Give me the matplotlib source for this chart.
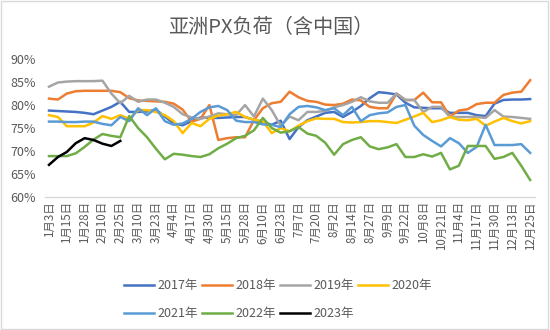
import matplotlib
matplotlib.use("Agg")
import matplotlib.pyplot as plt
import matplotlib.ticker as ticker
from matplotlib.patches import Rectangle
import numpy as np

plt.rcParams["font.family"] = ["Noto Sans CJK SC", "DejaVu Sans"]

TITLE = "亚洲PX负荷（含中国）"

# every other category carries a label
tick_labels = [
    "1月3日", "1月15日", "1月28日", "2月10日", "2月25日", "3月10日", "3月23日",
    "4月4日", "4月17日", "4月30日", "5月15日", "5月28日", "6月10日", "6月23日",
    "7月7日", "7月20日", "8月2日", "8月14日", "8月27日", "9月9日", "9月22日",
    "10月8日", "10月21日", "11月4日", "11月17日", "11月30日", "12月13日", "12月25日",
]

# weekly load, %
y2017 = [78.8, 78.7, 78.6, 78.5, 78.3, 78.0, 78.8, 79.6, 80.7, 78.5,
         78.5, 78.6, 79.0, 77.5, 76.0, 75.6, 76.5, 77.3, 77.2, 77.2,
         77.3, 77.4, 77.4, 76.8, 76.3, 75.7, 76.6, 72.6, 75.2, 76.7,
         77.5, 78.3, 78.5, 77.4, 78.5, 79.8, 81.5, 82.8, 82.6, 82.3,
         80.5, 79.5, 79.4, 79.3, 79.3, 78.3, 78.3, 78.3, 77.8, 77.6,
         80.3, 81.1, 81.2, 81.2, 81.3]
y2018 = [81.4, 81.2, 82.5, 83.0, 83.1, 83.1, 83.1, 83.1, 82.8, 81.5,
         81.0, 80.9, 80.8, 80.7, 80.3, 79.0, 76.4, 77.0, 80.0, 72.4,
         72.8, 73.0, 73.0, 76.7, 79.3, 80.4, 80.7, 82.9, 81.7, 80.9,
         80.7, 80.1, 80.0, 80.3, 81.2, 81.0, 79.6, 79.3, 79.3, 82.5,
         81.1, 81.1, 82.7, 80.6, 80.6, 77.5, 78.8, 79.1, 80.2, 80.5,
         80.5, 82.2, 82.7, 82.9, 85.4]
y2019 = [84.0, 84.9, 85.1, 85.2, 85.2, 85.2, 85.3, 82.5, 80.4, 82.0,
         80.7, 81.2, 81.2, 80.5, 79.6, 78.0, 77.3, 77.0, 77.5, 78.2,
         78.0, 77.8, 80.0, 77.5, 81.4, 78.9, 75.5, 77.5, 76.7, 78.5,
         78.5, 78.7, 79.5, 80.0, 80.7, 81.7, 80.8, 80.5, 80.5, 82.5,
         81.1, 81.1, 78.5, 79.6, 79.6, 77.4, 77.4, 77.4, 77.4, 77.2,
         78.9, 77.5, 77.4, 77.2, 77.0]
y2020 = [77.8, 77.4, 75.4, 75.4, 75.4, 76.2, 77.6, 77.0, 77.8, 77.0,
         78.9, 78.9, 78.5, 77.8, 76.5, 73.9, 76.1, 75.4, 77.0, 77.7,
         78.0, 78.5, 77.4, 76.8, 76.5, 73.9, 75.0, 74.3, 75.5, 76.5,
         77.1, 77.0, 77.0, 76.3, 76.2, 76.3, 76.5, 76.5, 76.3, 76.1,
         76.8, 77.5, 78.3, 76.3, 76.7, 77.4, 76.8, 76.7, 77.0, 75.5,
         76.4, 77.2, 76.5, 76.0, 76.5]
y2021 = [76.4, 76.4, 76.3, 76.3, 76.4, 76.4, 75.9, 75.6, 77.4, 76.5,
         79.3, 77.8, 79.3, 76.5, 75.7, 76.0, 77.0, 78.5, 79.5, 79.8,
         78.9, 76.6, 76.3, 76.3, 75.8, 75.7, 75.2, 78.0, 79.6, 79.8,
         79.5, 78.9, 79.3, 77.8, 79.6, 76.5, 77.8, 78.2, 78.4, 79.6,
         80.0, 75.5, 73.5, 72.2, 71.0, 72.8, 71.7, 69.6, 70.9, 75.7,
         71.3, 71.3, 71.3, 71.5, 69.6]
y2022 = [68.9, 68.9, 68.9, 69.5, 70.9, 72.5, 73.7, 73.3, 73.0, 77.6,
         75.0, 73.0, 70.5, 68.2, 69.4, 69.2, 68.9, 68.7, 69.3, 70.6,
         71.6, 72.8, 73.3, 74.5, 77.2, 75.0, 74.0, 74.3, 75.2, 73.8,
         73.3, 71.8, 69.2, 71.5, 72.4, 73.0, 71.0, 70.4, 70.8, 71.5,
         68.7, 68.7, 69.3, 68.8, 69.6, 66.0, 66.8, 71.1, 71.1, 71.1,
         68.3, 68.7, 69.6, 66.8, 63.7]
y2023 = [67.0, 68.7, 69.8, 71.7, 72.8, 72.4, 71.6, 71.1, 72.2]

series = [
    ("2017年", y2017, "#4472C4"),
    ("2018年", y2018, "#ED7D31"),
    ("2019年", y2019, "#A5A5A5"),
    ("2020年", y2020, "#FFC000"),
    ("2021年", y2021, "#5B9BD5"),
    ("2022年", y2022, "#70AD47"),
    ("2023年", y2023, "#000000"),
]

n_cat = len(y2018)
text_color = "#595959"

fig = plt.figure(figsize=(5.5, 3.3), dpi=100)
ax = fig.add_axes([0.081, 0.403, 0.891, 0.418])

handles = {}
for label, vals, color in series:
    xs = np.arange(len(vals))
    (ln,) = ax.plot(xs, vals, color=color, linewidth=1.8, label=label,
                    solid_joinstyle="round")
    handles[label] = ln

ax.set_xlim(-0.5, n_cat - 0.5)
ax.set_ylim(60, 90)
ax.yaxis.set_major_locator(ticker.MultipleLocator(5))
ax.yaxis.set_major_formatter(ticker.FuncFormatter(lambda v, _: f"{v:.0f}%"))
ax.set_xticks(np.arange(0, n_cat, 2))
ax.set_xticklabels(tick_labels, rotation=90)

for side in ("top", "right", "left"):
    ax.spines[side].set_visible(False)
ax.spines["bottom"].set_color("#D9D9D9")
ax.spines["bottom"].set_linewidth(1.0)
ax.tick_params(axis="both", length=0, colors=text_color)
ax.tick_params(axis="y", labelsize=9, pad=6)
ax.tick_params(axis="x", labelsize=8.3, pad=3)

fig.text(0.493, 0.918, TITLE, ha="center", va="center",
         fontsize=14.5, color=text_color)

# legend rows: 2017-2020 on top, 2021-2023 below (matplotlib fills by column)
order = ["2017年", "2021年", "2018年", "2022年", "2019年", "2023年", "2020年"]
fig.legend([handles[k] for k in order], order, loc="center",
           bbox_to_anchor=(0.505, 0.092), ncol=4, frameon=False,
           fontsize=9, handlelength=2.4, handletextpad=0.3,
           columnspacing=0.3, labelspacing=1.2, labelcolor=text_color)

fig.patches.append(Rectangle((0.002, 0.003), 0.995, 0.994,
                             transform=fig.transFigure, fill=False,
                             edgecolor="#D9D9D9", linewidth=1.0))

fig.savefig("out.png", dpi=100, facecolor="white")
